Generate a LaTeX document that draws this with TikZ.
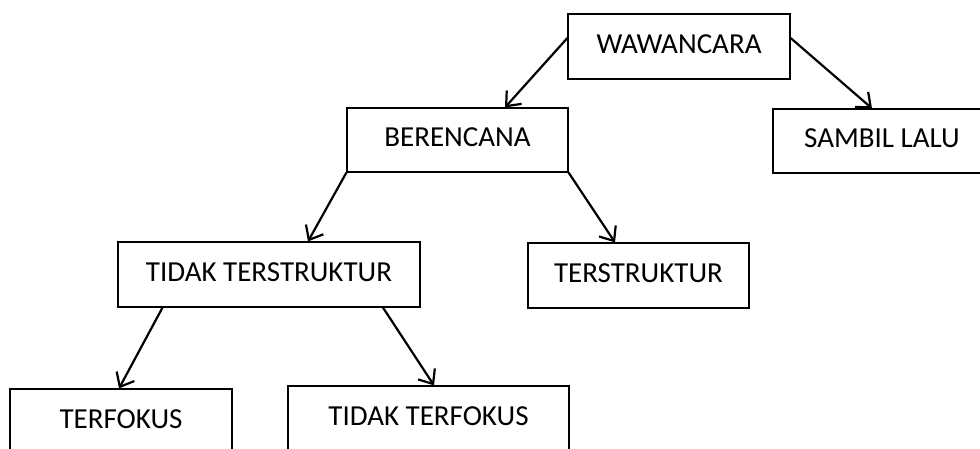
\documentclass[tikz,border=0pt]{standalone}
\usepackage{fontspec}
\setmainfont{Carlito}
\usetikzlibrary{arrows.meta}
\begin{document}
\begin{tikzpicture}[x=1pt,y=-1pt,
  box/.style={draw,line width=1.2pt,inner sep=0pt,minimum height=65pt,
    text height=19pt,text depth=6pt,
    font=\fontsize{29}{34}\selectfont},
  arr/.style={line width=2.2pt,-{Straight Barb[length=12pt,width=20pt,line width=2.2pt]}}]
\useasboundingbox (0,0) rectangle (980,448);
\begin{scope}
\clip (0,0) rectangle (980,448);
\node[box,minimum width=222pt] (w) at (679,46.5) {WAWANCARA};
\node[box,minimum width=221pt,minimum height=64pt] (b) at (457.5,140) {BERENCANA};
\node[box,minimum width=218pt,minimum height=64pt] (s) at (882,141) {SAMBIL LALU};
\node[box,minimum width=302pt] (tt) at (269,274.5) {TIDAK TERSTRUKTUR};
\node[box,minimum width=221pt] (t) at (638.5,275.5) {TERSTRUKTUR};
\node[box,minimum width=222pt] (f) at (121,421.5) {TERFOKUS};
\node[box,minimum width=281pt] (tf) at (428.5,418.5) {TIDAK TERFOKUS};
\draw[arr] ([yshift=8.5pt]w.west) -- ([xshift=47.5pt]b.north);
\draw[arr] ([yshift=8.5pt]w.east) -- ([xshift=-10pt]s.north);
\draw[arr] (b.south west) -- ([xshift=39pt]tt.north);
\draw[arr] (b.south east) -- ([xshift=-23.5pt]t.north);
\draw[arr] ([xshift=-106.5pt]tt.south) -- ([xshift=-2pt]f.north);
\draw[arr] ([xshift=114pt]tt.south) -- ([xshift=5.5pt]tf.north);
\end{scope}
\end{tikzpicture}
\end{document}
